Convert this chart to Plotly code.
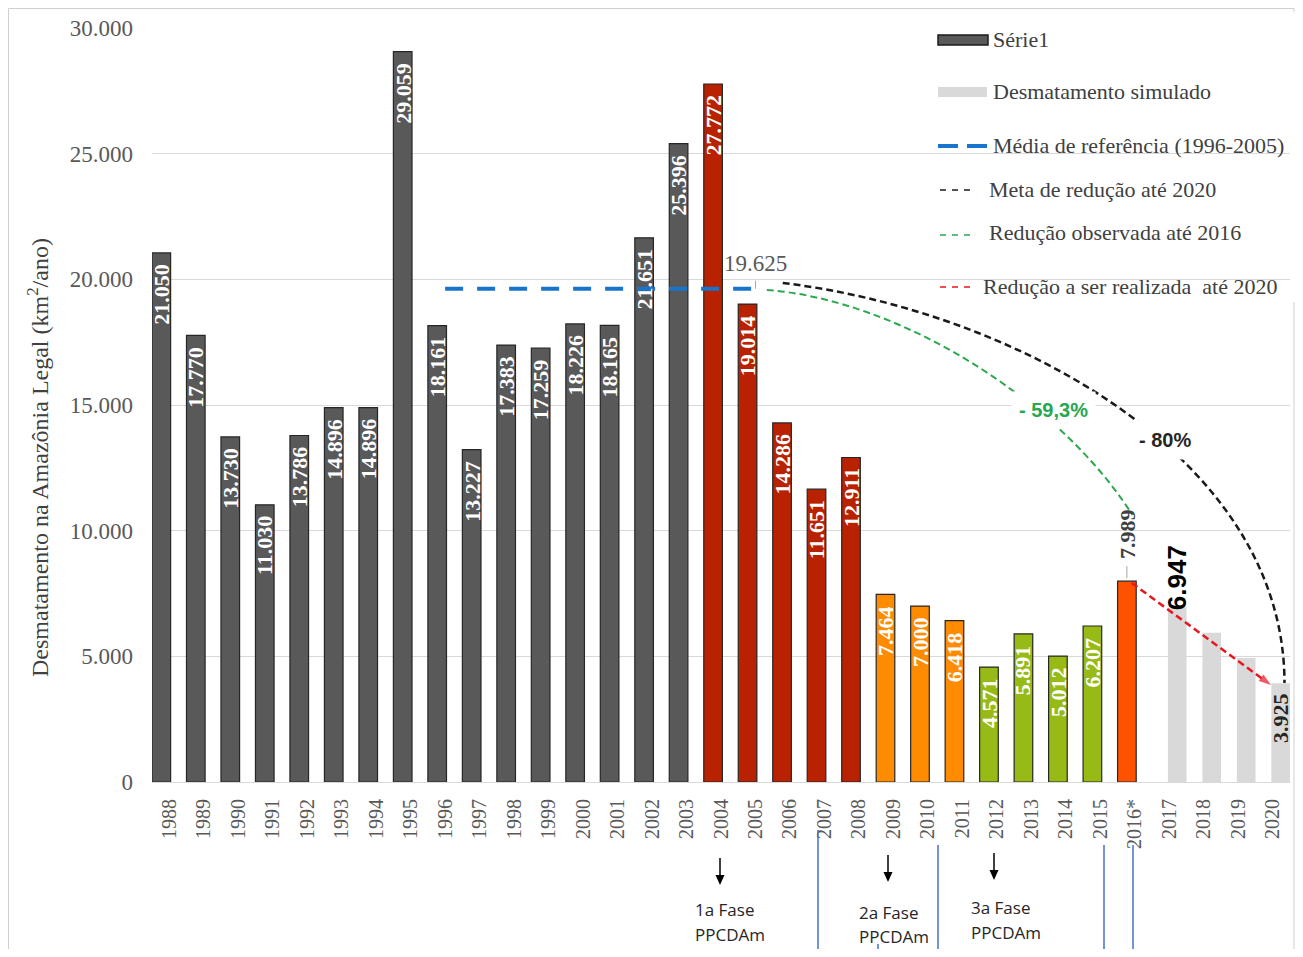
import plotly.graph_objects as go

# ---------------- data ----------------
years = list(range(1988, 2017))
deforestation = [21050, 17770, 13730, 11030, 13786, 14896, 14896, 29059, 18161, 13227,
                 17383, 17259, 18226, 18165, 21651, 25396, 27772, 19014, 14286, 11651,
                 12911, 7464, 7000, 6418, 4571, 5891, 5012, 6207, 7989]
sim_years = [2017, 2018, 2019, 2020]
sim_values = [6947, 5940, 4930, 3925]
ref_years = [1996, 2005]
ref_mean = 19625
tick_years = list(range(1988, 2021))
tick_labels = [str(y) for y in range(1988, 2016)] + ["2016*", "2017", "2018", "2019", "2020"]
pct_observed = "- 59,3%"
pct_target = "- 80%"

# ---------------- styles ----------------
def bar_color(y):
    if y <= 2003:
        return "#595959"
    if y <= 2008:
        return "#B82200"
    if y <= 2011:
        return "#FF8C00"
    if y <= 2015:
        return "#98BA16"
    return "#FF5200"

colors = [bar_color(y) for y in years]
fmt = lambda v: f"{v:,}".replace(",", ".")

SERIF = "Liberation Serif, Times New Roman, serif"
SANS = "Liberation Sans, Arial, sans-serif"
X0, X1 = 1987.5, 2020.5
# page body has an 8px margin; screen plot area: x 152..1290, y 28..782
OFF = 8
SL, SR, ST, SB = 152, 1290, 28, 782
W, H = 1303 - 2 * OFF, 957 - 2 * OFF
L, T = SL - OFF, ST - OFF
R, B = W - (SR - OFF), H - (SB - OFF)
PW, PH = SR - SL, SB - ST

def PX(px):
    return (px - SL) / PW

def PY(py):
    return (SB - py) / PH

BW = 0.54
OFF1 = -0.5
OFF2 = -0.04

fig = go.Figure()
fig.add_trace(go.Bar(
    x=years, y=deforestation, width=BW, offset=OFF1,
    marker=dict(color=colors, line=dict(color="#262626", width=1.2)),
    name="Série1", showlegend=False, hoverinfo="x+y"))
fig.add_trace(go.Bar(
    x=sim_years, y=sim_values, width=BW, offset=OFF2,
    marker=dict(color="#D9D9D9", line=dict(width=0)),
    name="Desmatamento simulado", showlegend=False))

# reference mean line
fig.add_trace(go.Scatter(
    x=ref_years, y=[ref_mean, ref_mean], mode="lines",
    line=dict(color="#1874CD", width=4, dash="18px,14px"),
    showlegend=False, hoverinfo="skip"))

# red arrow: from 2016 bar top to 2020 simulated value
fig.add_trace(go.Scatter(
    x=[years[-1] - 0.09, sim_years[-1] - 0.05],
    y=[deforestation[-1] - 70, sim_values[-1] - 70],
    mode="lines+markers",
    line=dict(color="#E8161F", width=2.5, dash="7px,4px"),
    marker=dict(symbol="arrow", size=[0, 13], color="#E8161F", angleref="previous",
                line=dict(width=0)),
    showlegend=False, hoverinfo="skip"))

shapes = []
# frame
shapes.append(dict(type="rect", xref="paper", yref="paper", x0=PX(8.5), x1=PX(1294),
                   y0=PY(990), y1=PY(8.5), line=dict(color="#D0D0D0", width=1), layer="below"))
# white legend background
shapes.append(dict(type="rect", xref="paper", yref="paper", x0=PX(925), x1=PX(1297),
                   y0=PY(302), y1=PY(12), fillcolor="white", line=dict(width=0), layer="between"))

# black curve (target reduction)
e = ref_years[1]
p0 = (e + 0.79, ref_mean + 230)
p1 = (e + 7.37, ref_mean - 844)
p2 = (sim_years[-1] + 0.34, 13011)
p3 = (sim_years[-1] + 0.34, sim_values[-1] + 14)
shapes.append(dict(type="path", xref="x", yref="y",
                   path=f"M {p0[0]},{p0[1]} C {p1[0]},{p1[1]} {p2[0]},{p2[1]} {p3[0]},{p3[1]}",
                   line=dict(color="#1A1A1A", width=2.5, dash="7px,4px"), layer="above"))
# green curve (observed reduction)
g0 = (e + 0.33, ref_mean - 48)
g1 = (e + 4.18, ref_mean - 446)
g2 = (e + 8.82, 15200)
g3 = (years[-1] - 0.07, 10624)
shapes.append(dict(type="path", xref="x", yref="y",
                   path=f"M {g0[0]},{g0[1]} C {g1[0]},{g1[1]} {g2[0]},{g2[1]} {g3[0]},{g3[1]}",
                   line=dict(color="#2EA84F", width=2, dash="7px,4px"), layer="above"))
# leader ticks
shapes.append(dict(type="line", xref="x", yref="y", x0=years[-1] - 0.23, x1=years[-1] - 0.23,
                   y0=deforestation[-1] + 120, y1=deforestation[-1] + 600,
                   line=dict(color="#A6A6A6", width=1)))
shapes.append(dict(type="line", xref="x", yref="y", x0=e, x1=e,
                   y0=ref_mean, y1=ref_mean + 320, line=dict(color="#A6A6A6", width=1)))

# legend swatches
shapes.append(dict(type="rect", xref="paper", yref="paper", x0=PX(938), x1=PX(988),
                   y0=PY(45), y1=PY(35), fillcolor="#595959", line=dict(color="#1A1A1A", width=1.5)))
shapes.append(dict(type="rect", xref="paper", yref="paper", x0=PX(938), x1=PX(987),
                   y0=PY(97), y1=PY(87), fillcolor="#D9D9D9", line=dict(width=0)))
shapes.append(dict(type="line", xref="paper", yref="paper", x0=PX(938), x1=PX(988),
                   y0=PY(146), y1=PY(146), line=dict(color="#1874CD", width=4, dash="20px,9px")))
for py, col in [(190, "#1A1A1A"), (235, "#2EA84F"), (287, "#E8161F")]:
    shapes.append(dict(type="line", xref="paper", yref="paper", x0=PX(940), x1=PX(976),
                       y0=PY(py), y1=PY(py), line=dict(color=col, width=1.5, dash="6px,6px")))

# blue vertical phase separators below the axis
for px, top in [(818, 830), (878, 944), (938, 845), (1104, 845), (1133, 845)]:
    shapes.append(dict(type="line", xref="paper", yref="paper", x0=PX(px), x1=PX(px),
                       y0=PY(top), y1=PY(990), line=dict(color="#4472C4", width=1.5)))

# phase arrows (shaft + head)
for ax_px, tip, top in [(720, 885, 858), (888, 882, 855), (994, 880, 853)]:
    shapes.append(dict(type="line", xref="paper", yref="paper", x0=PX(ax_px), x1=PX(ax_px),
                       y0=PY(top), y1=PY(tip - 6), line=dict(color="black", width=1.5)))
    shapes.append(dict(type="path", xref="paper", yref="paper",
                       path=(f"M {PX(ax_px)},{PY(tip)} L {PX(ax_px - 4.5)},{PY(tip - 10)} "
                             f"L {PX(ax_px + 4.5)},{PY(tip - 10)} Z"),
                       fillcolor="black", line=dict(width=0)))

ann = []
# inside bar labels
for y, v in zip(years[:-1], deforestation[:-1]):
    ann.append(dict(x=y + OFF1 + BW / 2, y=v, xref="x", yref="y", text=fmt(v), textangle=-90,
                    showarrow=False, yanchor="top", xanchor="center", yshift=-9,
                    font=dict(family=SERIF, size=22, color="white", weight="bold")))
# 2016 label above bar
ann.append(dict(x=years[-1] + OFF1 + BW / 2, y=deforestation[-1], xref="x", yref="y",
                text=fmt(deforestation[-1]), textangle=-90, showarrow=False, yanchor="bottom",
                xanchor="center", yshift=20,
                font=dict(family=SERIF, size=22, color="#404040", weight="bold")))
# 2017 simulated label
ann.append(dict(x=sim_years[0] + OFF2 + BW / 2, y=sim_values[0], xref="x", yref="y",
                text=fmt(sim_values[0]), textangle=-90, showarrow=False, yanchor="bottom",
                xanchor="center", yshift=-5,
                font=dict(family=SANS, size=26, color="black", weight="bold")))
# 2020 simulated label
ann.append(dict(x=sim_years[-1] + OFF2 + BW / 2, y=sim_values[-1], xref="x", yref="y",
                text=fmt(sim_values[-1]), textangle=-90, showarrow=False, yanchor="top",
                xanchor="center", yshift=-8,
                font=dict(family=SERIF, size=22, color="#262626", weight="bold")))
# reference mean label
ann.append(dict(x=e, y=ref_mean, xref="x", yref="y", text=fmt(ref_mean), showarrow=False,
                xanchor="center", yanchor="bottom", yshift=11,
                font=dict(family=SERIF, size=23, color="#595959")))
# percentage labels
ann.append(dict(x=PX(1053), y=PY(410), xref="paper", yref="paper", text=f"<b>{pct_observed}</b>",
                showarrow=False, bgcolor="white", borderpad=7, xanchor="center", yanchor="middle",
                font=dict(family=SANS, size=20, color="#27A750")))
ann.append(dict(x=PX(1165), y=PY(440), xref="paper", yref="paper", text=f"<b>{pct_target}</b>",
                showarrow=False, bgcolor="white", borderpad=8, xanchor="center", yanchor="middle",
                font=dict(family=SANS, size=20, color="#262626")))

# legend texts
for txt, px, py in [("Série1", 991, 40), ("Desmatamento simulado", 991, 92),
                    ("Média de referência (1996-2005)", 991, 146),
                    ("Meta de redução até 2020", 987, 189),
                    ("Redução observada até 2016", 987, 233),
                    ("Redução a ser realizada  até 2020", 981, 286)]:
    ann.append(dict(x=PX(px), y=PY(py), xref="paper", yref="paper", text=txt, showarrow=False,
                    xanchor="left", yanchor="middle",
                    font=dict(family=SERIF, size=22, color="#404040")))

# y-axis title
ann.append(dict(x=PX(38), y=PY(458), xref="paper", yref="paper",
                text="Desmatamento na Amazônia Legal (km<sup>2</sup>/ano)", textangle=-90,
                showarrow=False, xanchor="center", yanchor="middle",
                font=dict(family=SERIF, size=24, color="#404040")))

for txt, px, py in [("1a Fase", 693, 909), ("PPCDAm", 693, 934),
                    ("2a Fase", 857, 912), ("PPCDAm", 857, 936),
                    ("3a Fase", 969, 907), ("PPCDAm", 969, 932)]:
    ann.append(dict(x=PX(px), y=PY(py), xref="paper", yref="paper", text=txt, showarrow=False,
                    xanchor="left", yanchor="middle",
                    font=dict(family="Open Sans, sans-serif", size=17, color="#262626")))

fig.update_layout(
    width=W, height=H, margin=dict(l=L, r=R, t=T, b=B),
    paper_bgcolor="white", plot_bgcolor="white",
    separators=",.", barmode="overlay", showlegend=False,
    shapes=shapes, annotations=ann,
    xaxis=dict(range=[X0, X1], tickmode="array", tickvals=tick_years, ticktext=tick_labels,
               tickangle=-90, showgrid=False, zeroline=False, showline=True,
               linecolor="#D9D9D9", linewidth=1, ticks="", ticklabelstandoff=8,
               tickfont=dict(family=SERIF, size=20, color="#595959")),
    yaxis=dict(range=[0, 30000], dtick=5000, tickformat=",d", showgrid=True,
               gridcolor="#D9D9D9", gridwidth=1, zeroline=False, showline=False, ticks="",
               ticklabelstandoff=18, tickfont=dict(family=SERIF, size=23, color="#595959")),
)

fig.write_html("out.html")
